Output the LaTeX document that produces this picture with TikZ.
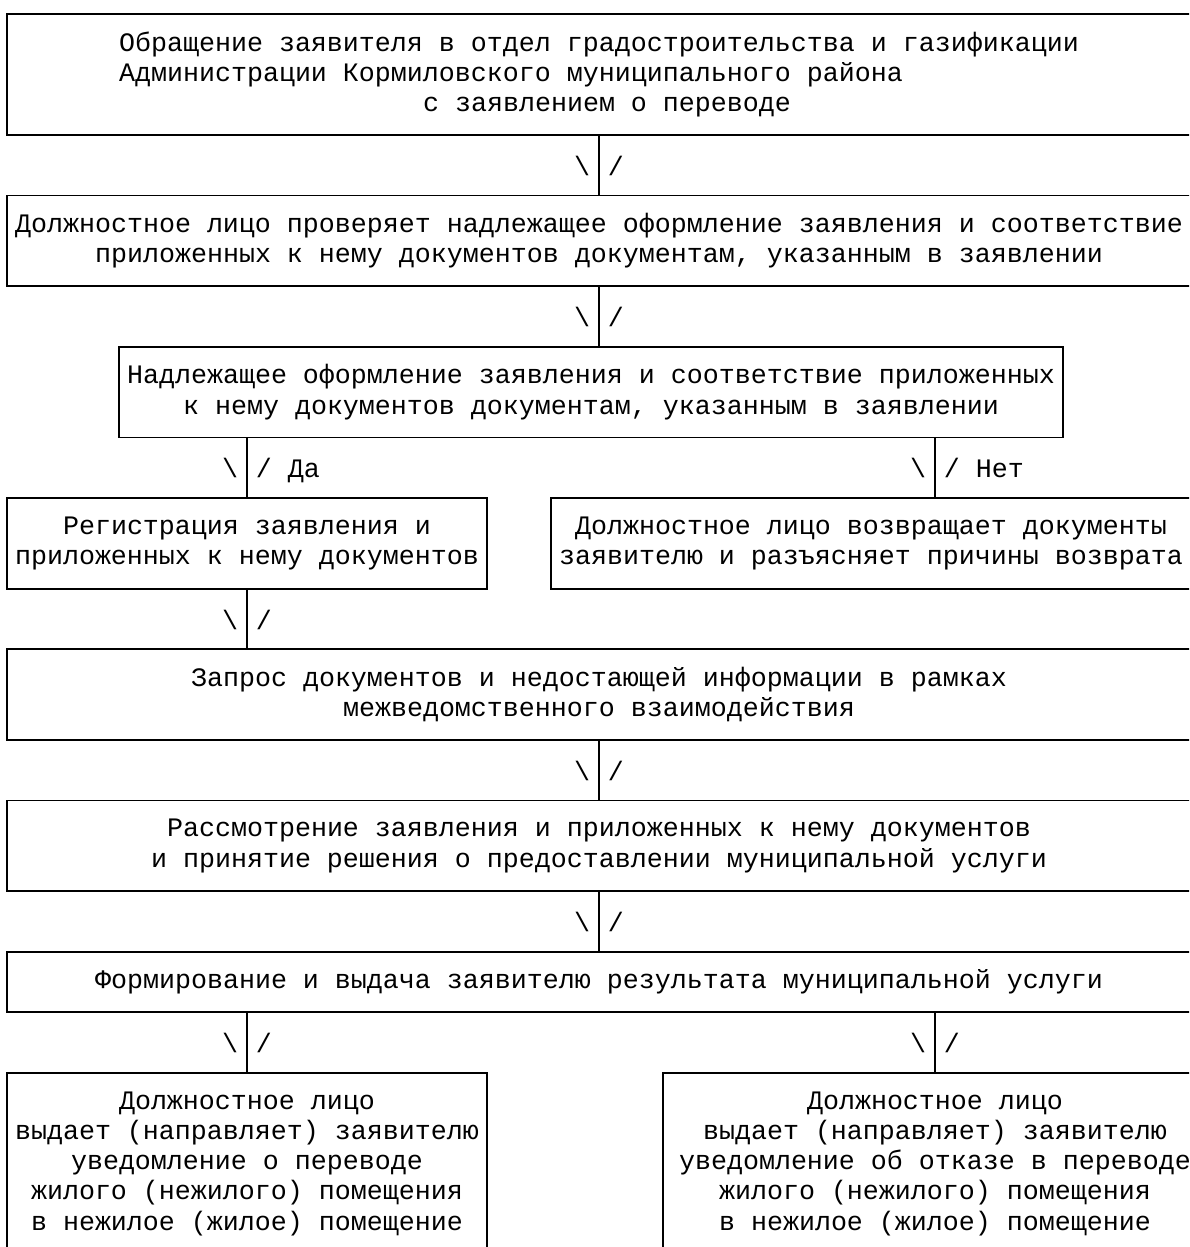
\documentclass[tikz,border=0pt]{standalone}
\usepackage{fontspec}
\setmainfont{Liberation Mono}
\usepackage{tikz}
\usetikzlibrary{positioning}

\tikzset{
  box/.style={draw=black, line width=1.8pt, inner sep=0pt, align=center,
    font=\fontsize{26.66}{30.25}\selectfont},
  link/.style={draw=black, line width=1.8pt},
  tipl/.style={left=8pt, inner sep=0pt, text height=22pt, text depth=2pt,
    font=\fontsize{26.66}{30.25}\selectfont},
  tipr/.style={right=8pt, inner sep=0pt, text height=22pt, text depth=2pt,
    font=\fontsize{26.66}{30.25}\selectfont},
}

\begin{document}
\begin{tikzpicture}[x=1pt,y=-1pt]
\useasboundingbox (0,0) rectangle (1189,1247);
\clip (0,0) rectangle (1189,1247);

\node[box, align=left, minimum width=1184pt, minimum height=121pt] (b1) at (599,74.5)
  {Обращение заявителя в отдел градостроительства и газификации\\
   Администрации Кормиловского муниципального района\\
   \hspace*{304pt}с заявлением о переводе};
\node[box, minimum width=1184pt, minimum height=90.75pt] (b2) at (599,240.875)
  {Должностное лицо проверяет надлежащее оформление заявления и соответствие\\
   приложенных к нему документов документам, указанным в заявлении};
\node[box, minimum width=944pt, minimum height=90.75pt] (b3) at (591,392.125)
  {Надлежащее оформление заявления и соответствие приложенных\\
   к нему документов документам, указанным в заявлении};
\node[box, minimum width=480pt, minimum height=90.75pt] (b4) at (247,543.375)
  {Регистрация заявления и\\ приложенных к нему документов};
\node[box, minimum width=640pt, minimum height=90.75pt] (b5) at (871,543.375)
  {Должностное лицо возвращает документы\\ заявителю и разъясняет причины возврата};
\node[box, minimum width=1184pt, minimum height=90.75pt] (b6) at (599,694.625)
  {Запрос документов и недостающей информации в рамках\\
   межведомственного взаимодействия};
\node[box, minimum width=1184pt, minimum height=90.75pt] (b7) at (599,845.875)
  {Рассмотрение заявления и приложенных к нему документов\\
   и принятие решения о предоставлении муниципальной услуги};
\node[box, minimum width=1184pt, minimum height=60.5pt] (b8) at (599,982)
  {Формирование и выдача заявителю результата муниципальной услуги};
\node[box, minimum width=480pt, minimum height=181.5pt] (b9) at (247,1163.5)
  {Должностное лицо\\ выдает (направляет) заявителю\\ уведомление о переводе\\
   жилого (нежилого) помещения\\ в нежилое (жилое) помещение};
\node[box, minimum width=544pt, minimum height=181.5pt] (b10) at (935,1163.5)
  {Должностное лицо\\ выдает (направляет) заявителю\\ уведомление об отказе в переводе\\
   жилого (нежилого) помещения\\ в нежилое (жилое) помещение};

\path[link] (b1.south) -- node[tipl] {\textbackslash} node[tipr] {/} (b2.north);
\path[link] (b2.south) -- node[tipl] {\textbackslash} node[tipr] {/} (b2.south |- b3.north);
\path[link] (b3.south -| b4.north) -- node[tipl] {\textbackslash} node[tipr] {/ Да} (b4.north);
\path[link] (b3.south -| b10.north) -- node[tipl] {\textbackslash} node[tipr] {/ Нет} (b5.north -| b10.north);
\path[link] (b4.south) -- node[tipl] {\textbackslash} node[tipr] {/} (b4.south |- b6.north);
\path[link] (b6.south) -- node[tipl] {\textbackslash} node[tipr] {/} (b7.north);
\path[link] (b7.south) -- node[tipl] {\textbackslash} node[tipr] {/} (b8.north);
\path[link] (b8.south -| b9.north) -- node[tipl] {\textbackslash} node[tipr] {/} (b9.north);
\path[link] (b8.south -| b10.north) -- node[tipl] {\textbackslash} node[tipr] {/} (b10.north);

\end{tikzpicture}
\end{document}
